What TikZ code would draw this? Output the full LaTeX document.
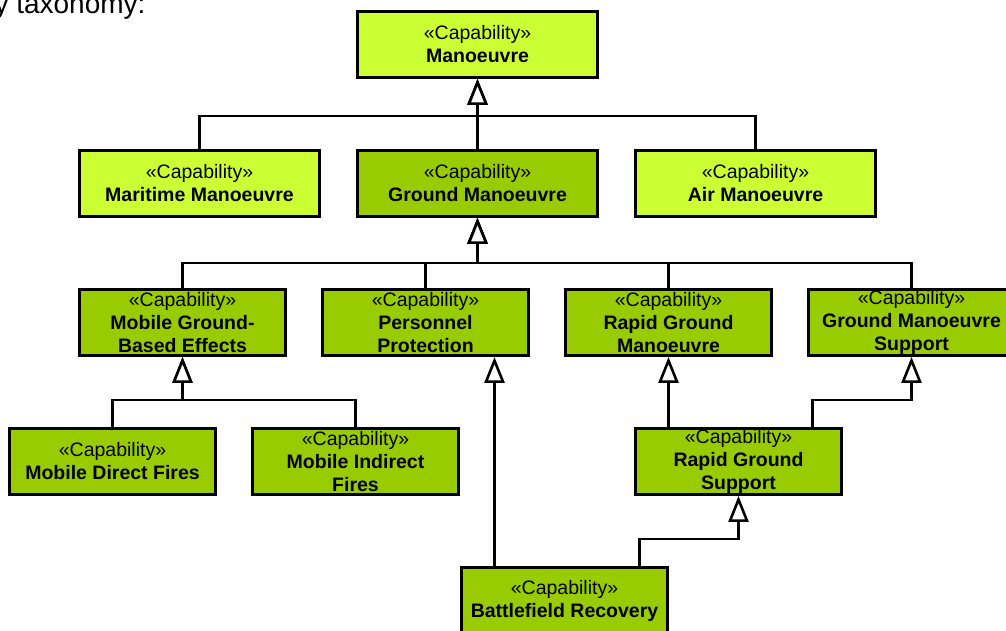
\documentclass[tikz,border=0pt]{standalone}
\usepackage{fontspec}
\setmainfont{Liberation Sans}
\usetikzlibrary{arrows.meta}
\definecolor{glight}{RGB}{204,255,51}
\definecolor{gdark}{RGB}{153,204,0}
\tikzset{
  capbox/.style={draw, line width=2.8pt, fill=gdark, inner sep=0pt, align=center,
    minimum width=206pt, minimum height=66pt, font=\fontsize{19.5}{23}\selectfont},
  capwide/.style={capbox, minimum width=240pt},
  gen/.style={line width=2.6pt, -{Triangle[length=26pt, width=20pt, fill=white]}}
}
\begin{document}
\begin{tikzpicture}[x=1pt, y=-1pt]
        \clip (0,0) rectangle (1006,630);
        \node[anchor=base east, font=\fontsize{28}{32}\selectfont] (intro) at (149,13) {y taxonomy:};
        % top level
        \node[capwide, fill=glight] (man) at (477.5,44.5) {«Capability»\\\textbf{Manoeuvre}};
        \node[capwide, fill=glight] (mar) at (199.5,183.5) {«Capability»\\\textbf{Maritime Manoeuvre}};
        \node[capwide] (gm) at (477.5,183.5) {«Capability»\\\textbf{Ground Manoeuvre}};
        \node[capwide, fill=glight] (air) at (755.5,183.5) {«Capability»\\\textbf{Air Manoeuvre}};
        % ground manoeuvre
        \node[capbox] (mgbe) at (182.5,322.5) {«Capability»\\\textbf{Mobile Ground-}\\\textbf{Based Effects}};
        \node[capbox] (pp) at (425.5,322.5) {«Capability»\\\textbf{Personnel}\\\textbf{Protection}};
        \node[capbox] (rgm) at (668.5,322.5) {«Capability»\\\textbf{Rapid Ground}\\\textbf{Manoeuvre}};
        \node[capbox] (gms) at (911.5,322.5) {«Capability»\\\textbf{Ground Manoeuvre}\\\textbf{Support}};
        \node[capbox] (mdf) at (112.5,461.5) {«Capability»\\\textbf{Mobile Direct Fires}};
        \node[capbox] (mif) at (355.5,461.5) {«Capability»\\\textbf{Mobile Indirect}\\\textbf{Fires}};
        \node[capbox] (rgs) at (738.5,461.5) {«Capability»\\\textbf{Rapid Ground}\\\textbf{Support}};
        \node[capbox] (br) at (564.5,600.5) {«Capability»\\\textbf{Battlefield Recovery}};
        % generalisations
        \draw[gen] (mar.north) |- ([yshift=-37pt]man.south) -| (man.south);
        \draw[gen] (air.north) |- ([yshift=-37pt]man.south) -| (man.south);
        \draw[gen] (gm.north) -- (man.south);
        \draw[gen] (mgbe.north) |- ([yshift=-45pt]gm.south) -| (gm.south);
        \draw[gen] (pp.north) |- ([yshift=-45pt]gm.south) -| (gm.south);
        \draw[gen] (rgm.north) |- ([yshift=-45pt]gm.south) -| (gm.south);
        \draw[gen] (gms.north) |- ([yshift=-45pt]gm.south) -| (gm.south);
        \draw[gen] (mdf.north) |- ([yshift=-43pt]mgbe.south) -| (mgbe.south);
        \draw[gen] (mif.north) |- ([yshift=-43pt]mgbe.south) -| (mgbe.south);
        \coordinate (brpp) at ([xshift=-70pt]br.north);
        \draw[gen] (brpp) -- (brpp |- pp.south);
        \draw[gen] (rgs.north -| rgm.south) -- (rgm.south);
        \draw[gen] ([xshift=74pt]rgs.north) |- ([yshift=-43pt]gms.south) -| (gms.south);
        \draw[gen] ([xshift=75pt]br.north) |- ([yshift=-43pt]rgs.south) -| (rgs.south);
    \end{tikzpicture}
\end{document}
